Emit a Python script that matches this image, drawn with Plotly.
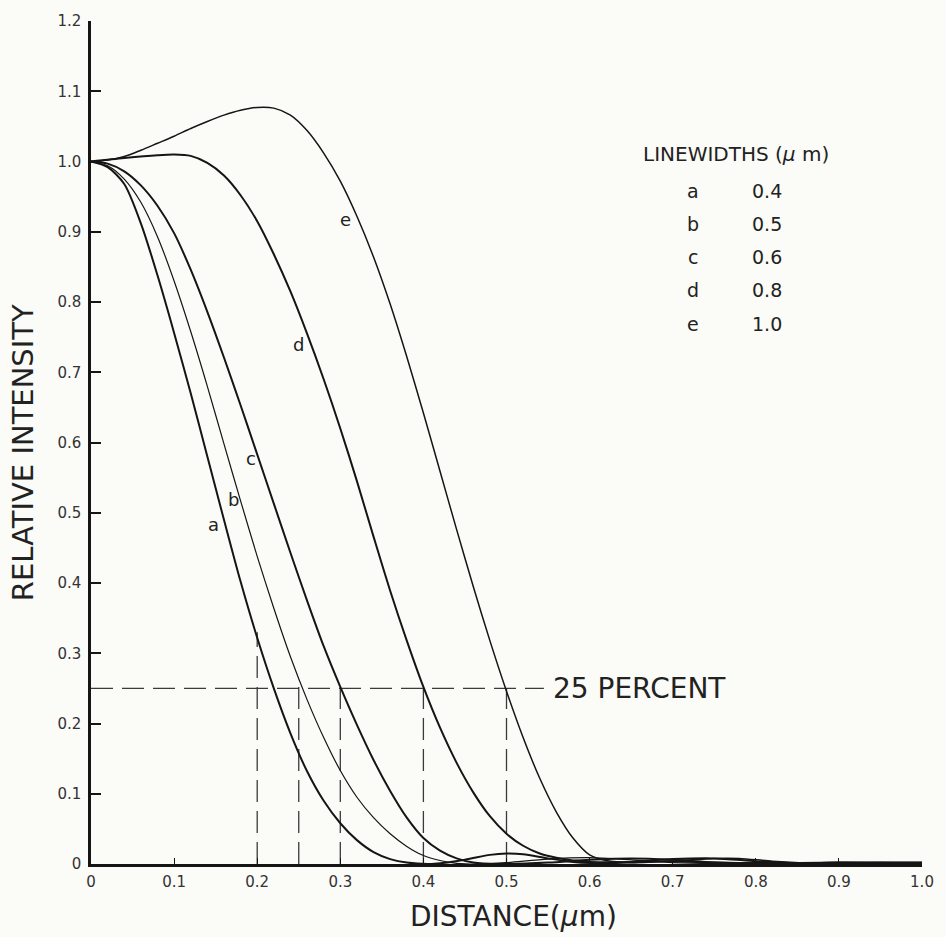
import plotly.graph_objects as go

# Relative intensity profiles across imaged lines of different widths
# (distance from line centre in micrometres).
line_ids = ["a", "b", "c", "d", "e"]
line_widths = ["0.4", "0.5", "0.6", "0.8", "1.0"]

dist_a = [0, 0.02, 0.04, 0.06, 0.08, 0.10, 0.12, 0.14, 0.16, 0.18, 0.20, 0.22, 0.24,
          0.26, 0.28, 0.30, 0.32, 0.34, 0.36, 0.38, 0.41, 0.45, 0.48, 0.50, 0.52,
          0.55, 0.58, 0.62, 0.66, 0.70, 0.75, 0.80, 0.90, 1.00]
int_a = [1.0, 0.992, 0.968, 0.912, 0.838, 0.756, 0.67, 0.58, 0.49, 0.402, 0.322, 0.25,
         0.186, 0.132, 0.09, 0.058, 0.034, 0.017, 0.007, 0.002, 0.0, 0.006, 0.013,
         0.015, 0.014, 0.008, 0.003, 0.001, 0.003, 0.004, 0.002, 0.001, 0.001, 0.001]

dist_b = [0, 0.02, 0.04, 0.06, 0.08, 0.10, 0.12, 0.14, 0.16, 0.18, 0.20, 0.22, 0.24,
          0.26, 0.28, 0.30, 0.32, 0.34, 0.36, 0.38, 0.40, 0.42, 0.44, 0.47, 0.50,
          0.55, 0.60, 0.65, 0.70, 0.75, 0.80, 0.90, 1.00]
int_b = [1.0, 0.994, 0.975, 0.942, 0.893, 0.83, 0.758, 0.68, 0.598, 0.517, 0.438,
         0.364, 0.295, 0.234, 0.18, 0.133, 0.095, 0.066, 0.043, 0.025, 0.012, 0.005,
         0.001, 0.0, 0.002, 0.007, 0.009, 0.006, 0.002, 0.001, 0.002, 0.002, 0.001]

dist_c = [0, 0.02, 0.04, 0.06, 0.08, 0.10, 0.12, 0.14, 0.16, 0.18, 0.20, 0.22, 0.24,
          0.26, 0.28, 0.30, 0.32, 0.34, 0.36, 0.38, 0.40, 0.42, 0.44, 0.46, 0.49,
          0.55, 0.60, 0.65, 0.70, 0.75, 0.80, 0.90, 1.00]
int_c = [1.0, 0.997, 0.986, 0.966, 0.937, 0.898, 0.846, 0.786, 0.721, 0.653, 0.583,
         0.513, 0.443, 0.375, 0.31, 0.252, 0.198, 0.148, 0.104, 0.066, 0.037, 0.019,
         0.008, 0.002, 0.0, 0.002, 0.006, 0.008, 0.006, 0.002, 0.001, 0.002, 0.001]

dist_d = [0, 0.04, 0.08, 0.10, 0.12, 0.14, 0.16, 0.18, 0.20, 0.22, 0.24, 0.26, 0.28,
          0.30, 0.32, 0.34, 0.36, 0.38, 0.40, 0.42, 0.44, 0.46, 0.48, 0.50, 0.52,
          0.54, 0.56, 0.58, 0.60, 0.65, 0.70, 0.75, 0.80, 0.85, 0.90, 1.00]
int_d = [1.0, 1.005, 1.009, 1.01, 1.008, 0.998, 0.98, 0.952, 0.915, 0.868, 0.815,
         0.755, 0.69, 0.62, 0.545, 0.466, 0.389, 0.318, 0.252, 0.194, 0.144, 0.102,
         0.068, 0.043, 0.026, 0.015, 0.009, 0.005, 0.003, 0.003, 0.007, 0.008, 0.004,
         0.001, 0.002, 0.002]

dist_e = [0, 0.02, 0.04, 0.06, 0.08, 0.10, 0.12, 0.14, 0.16, 0.18, 0.20, 0.22, 0.24,
          0.26, 0.28, 0.30, 0.32, 0.34, 0.36, 0.38, 0.40, 0.42, 0.44, 0.46, 0.48,
          0.50, 0.52, 0.54, 0.56, 0.58, 0.60, 0.62, 0.65, 0.70, 0.75, 0.78, 0.82,
          0.88, 0.95, 1.00]
int_e = [1.0, 1.002, 1.007, 1.016, 1.026, 1.036, 1.047, 1.057, 1.066, 1.073, 1.077,
         1.076, 1.066, 1.044, 1.012, 0.972, 0.922, 0.864, 0.797, 0.722, 0.642, 0.559,
         0.476, 0.395, 0.318, 0.246, 0.18, 0.122, 0.074, 0.037, 0.013, 0.005, 0.002,
         0.004, 0.008, 0.008, 0.004, 0.001, 0.002, 0.002]

# Nominal half-widths marked by dashed guides, and the level each guide reaches.
half_widths = [0.2, 0.25, 0.3, 0.4, 0.5]
guide_tops = [0.33, 0.26, 0.26, 0.25, 0.25]
threshold = 0.25

y_ticks = [0, 0.1, 0.2, 0.3, 0.4, 0.5, 0.6, 0.7, 0.8, 0.9, 1.0, 1.1, 1.2]
y_tick_text = ["0", "0.1", "0.2", "0.3", "0.4", "0.5", "0.6", "0.7", "0.8", "0.9",
               "1.0", "1.1", "1.2"]
x_ticks = [0, 0.1, 0.2, 0.3, 0.4, 0.5, 0.6, 0.7, 0.8, 0.9, 1.0]
x_tick_text = ["0", "0.1", "0.2", "0.3", "0.4", "0.5", "0.6", "0.7", "0.8", "0.9", "1.0"]

INK = "#151515"
GUIDE = "#3a3a3a"
TEXT = "#222222"
BG = "#fbfbf7"
FONT = "DejaVu Sans"

fig = go.Figure()

# Dashed guides
fig.add_trace(go.Scatter(x=[0, 0.545], y=[threshold, threshold], mode="lines",
                         line=dict(color=GUIDE, width=1.3, dash="22px,9px"),
                         hoverinfo="skip", showlegend=False))
for hx, top in zip(half_widths, guide_tops):
    fig.add_trace(go.Scatter(x=[hx, hx], y=[0, top], mode="lines",
                             line=dict(color=GUIDE, width=1.3, dash="22px,9px"),
                             hoverinfo="skip", showlegend=False))

curves = [
    (dist_a, int_a, 2.0),
    (dist_b, int_b, 1.2),
    (dist_c, int_c, 2.0),
    (dist_d, int_d, 2.0),
    (dist_e, int_e, 1.5),
]
for (xs, ys, w), name in zip(curves, line_ids):
    fig.add_trace(go.Scatter(x=xs, y=ys, mode="lines", name=name,
                             line=dict(color=INK, width=w, shape="spline", smoothing=0.8),
                             showlegend=False))

annotations = []

# Curve letters
label_pos = {"a": (0.148, 0.483), "b": (0.171, 0.519), "c": (0.192, 0.577),
             "d": (0.250, 0.739), "e": (0.306, 0.918)}
for lid in line_ids:
    lx, ly = label_pos[lid]
    annotations.append(dict(x=lx, y=ly, xref="x", yref="y", text=lid, showarrow=False,
                            xanchor="center", yanchor="middle",
                            font=dict(family=FONT, size=18, color=TEXT)))

# Key of line widths
annotations.append(dict(x=0.662, y=1.010, xref="x", yref="y", xanchor="left",
                        yanchor="middle", text="LINEWIDTHS (<i>μ</i> m)", showarrow=False,
                        font=dict(family=FONT, size=20, color=TEXT)))
row_y = [0.958, 0.911, 0.864, 0.817, 0.769]
for lid, lw, ry in zip(line_ids, line_widths, row_y):
    annotations.append(dict(x=0.724, y=ry, xref="x", yref="y", text=lid,
                            xanchor="center", yanchor="middle", showarrow=False,
                            font=dict(family=FONT, size=19, color=TEXT)))
    annotations.append(dict(x=0.814, y=ry, xref="x", yref="y", text=lw,
                            xanchor="center", yanchor="middle", showarrow=False,
                            font=dict(family=FONT, size=19, color=TEXT)))

annotations.append(dict(x=0.554, y=threshold, xref="x", yref="y", xanchor="left",
                        yanchor="middle", text="25 PERCENT", showarrow=False,
                        font=dict(family=FONT, size=28, color=TEXT)))

# Axis titles
annotations.append(dict(x=-0.0824, y=0.488, xref="paper", yref="paper",
                        xanchor="center", yanchor="middle",
                        text="RELATIVE INTENSITY", textangle=-90, showarrow=False,
                        font=dict(family=FONT, size=29, color=TEXT)))
annotations.append(dict(x=0.509, y=-0.0625, xref="paper", yref="paper",
                        xanchor="center", yanchor="middle",
                        text="DISTANCE(<i>μ</i>m)", showarrow=False,
                        font=dict(family=FONT, size=28, color=TEXT)))

fig.update_layout(
    width=946, height=937,
    margin=dict(l=91, r=18, t=16, b=73),
    paper_bgcolor=BG, plot_bgcolor=BG,
    annotations=annotations,
    xaxis=dict(range=[0, 1.0], tickvals=x_ticks, ticktext=x_tick_text,
               showgrid=False, zeroline=False, showline=True, linecolor=INK,
               linewidth=2.5, ticks="inside", ticklen=6, tickwidth=1.2,
               tickcolor=INK, ticklabelstandoff=2,
               tickfont=dict(family=FONT, size=15, color="#333333")),
    yaxis=dict(range=[0, 1.2], tickvals=y_ticks, ticktext=y_tick_text,
               showgrid=False, zeroline=False, showline=True, linecolor=INK,
               linewidth=2.5, ticks="inside", ticklen=10, tickwidth=1.5,
               tickcolor=INK, ticklabelstandoff=4,
               tickfont=dict(family=FONT, size=15, color="#333333")),
)

fig.write_html("out.html")
